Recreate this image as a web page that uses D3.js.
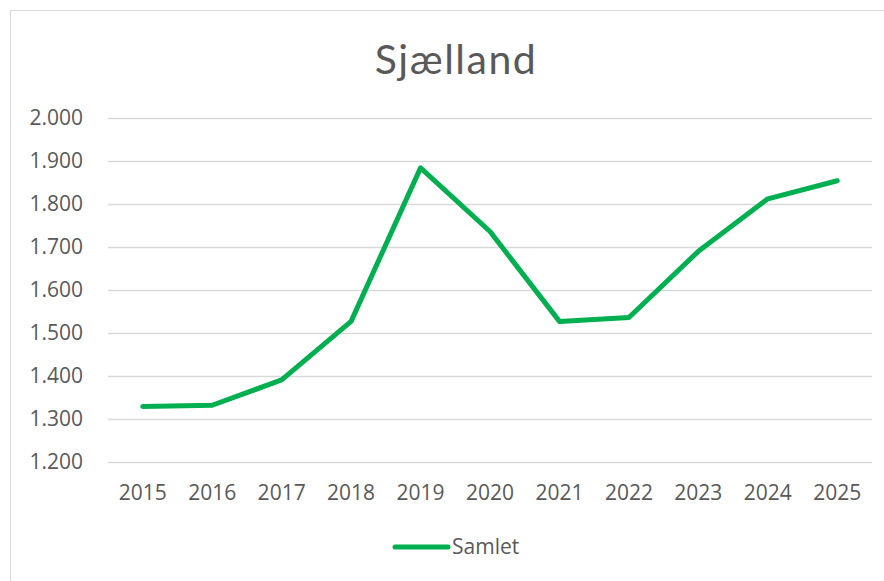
<!DOCTYPE html>
<html>
<head>
<meta charset="utf-8">
<script src="https://cdn.jsdelivr.net/npm/d3@7"></script>
<style>
  body { margin: 0; background: #fff; }
  text { fill: #595959; }
</style>
</head>
<body>
<div id="chart"></div>
<script>
var years = ["2015", "2016", "2017", "2018", "2019", "2020", "2021", "2022", "2023", "2024", "2025"];
var samlet = [1329, 1332, 1391, 1527, 1884, 1736, 1527, 1536, 1690, 1812, 1854];
var yTicks = [1200, 1300, 1400, 1500, 1600, 1700, 1800, 1900, 2000];
var seriesName = "Samlet";
var title = "Sjælland";

var W = 884, H = 581;
var margin = { top: 118, right: 12, bottom: 119, left: 108 };
var width = W - margin.left - margin.right;
var height = H - margin.top - margin.bottom;

var svg = d3.select("#chart")
  .append("svg")
  .attr("width", W)
  .attr("height", H);

// chart frame
svg.append("rect")
  .attr("x", 10.5)
  .attr("y", 10.5)
  .attr("width", W)
  .attr("height", H)
  .attr("fill", "none")
  .attr("stroke", "#d9d9d9");

svg.append("text")
  .attr("x", 456)
  .attr("y", 74)
  .attr("text-anchor", "middle")
  .style("font-family", "Lato, 'Open Sans', sans-serif")
  .style("font-size", "41px")
  .style("letter-spacing", "1.5px")
  .text(title);

var g = svg.append("g")
  .attr("transform", "translate(" + margin.left + "," + margin.top + ")");

var x = d3.scaleBand()
  .domain(years)
  .range([0, width]);

var y = d3.scaleLinear()
  .domain([1200, 2000])
  .range([height, 0]);

// gridlines
g.append("g")
  .selectAll("line")
  .data(yTicks)
  .enter()
  .append("line")
  .attr("x1", 0)
  .attr("x2", width)
  .attr("y1", function (d) { return Math.round(y(d)) + 0.5; })
  .attr("y2", function (d) { return Math.round(y(d)) + 0.5; })
  .attr("stroke", "#d9d9d9")
  .attr("stroke-width", 1.5);

var yAxis = g.append("g")
  .attr("transform", "translate(-22,0)")
  .call(d3.axisLeft(y)
    .tickValues(yTicks)
    .tickSize(0)
    .tickFormat(function (d) { return d3.format(",")(d).replace(",", "."); }));
yAxis.select(".domain").remove();

var xAxis = g.append("g")
  .attr("transform", "translate(0," + height + ")")
  .call(d3.axisBottom(x).tickSize(0).tickPadding(23));
xAxis.select(".domain").remove();

svg.selectAll(".tick text")
  .style("font-family", "'Open Sans', sans-serif")
  .style("font-size", "21px")
  .attr("fill", "#595959");

var line = d3.line()
  .x(function (d, i) { return x(years[i]) + x.bandwidth() / 2; })
  .y(function (d) { return y(d); });

g.append("path")
  .datum(samlet)
  .attr("d", line)
  .attr("fill", "none")
  .attr("stroke", "#00b050")
  .attr("stroke-width", 5)
  .attr("stroke-linejoin", "round")
  .attr("stroke-linecap", "round");

// legend
var legend = svg.append("g").attr("transform", "translate(395,547)");
legend.append("line")
  .attr("x1", 0)
  .attr("x2", 53)
  .attr("stroke", "#00b050")
  .attr("stroke-width", 5)
  .attr("stroke-linecap", "round");
legend.append("text")
  .attr("x", 57)
  .attr("y", 7)
  .style("font-family", "'Open Sans', sans-serif")
  .style("font-size", "21px")
  .text(seriesName);
</script>
</body>
</html>
